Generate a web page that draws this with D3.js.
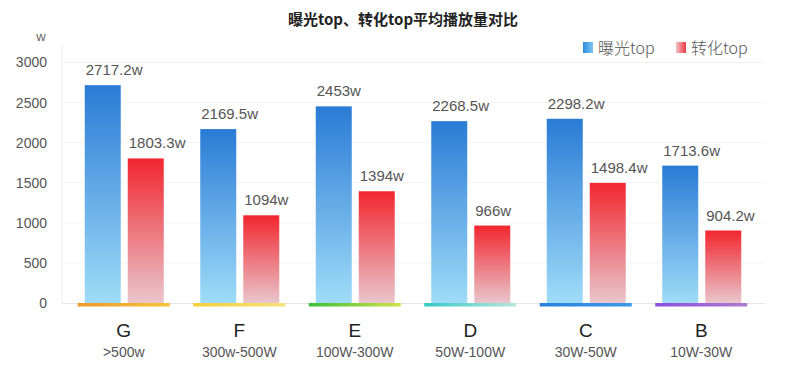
<!DOCTYPE html>
<html><head><meta charset="utf-8">
<script src="https://cdn.jsdelivr.net/npm/d3@7"></script>
<style>body{margin:0;background:#fff}svg{display:block}</style>
</head><body>
<svg id="c" width="806" height="368"></svg>
<script>
const categories = ["G","F","E","D","C","B"];
const ranges = [">500w","300w-500W","100W-300W","50W-100W","30W-50W","10W-30W"];
const exposure = [2717.2,2169.5,2453,2268.5,2298.2,1713.6];
const conversion = [1803.3,1094,1394,966,1498.4,904.2];
const exposureLabels = ["2717.2w","2169.5w","2453w","2268.5w","2298.2w","1713.6w"];
const conversionLabels = ["1803.3w","1094w","1394w","966w","1498.4w","904.2w"];
const yTicks = [0,500,1000,1500,2000,2500,3000];
const seriesNames = ["曝光top","转化top"];
const underlineColors = [["#ee9a2a","#f6c23a"],["#f3cf3a","#f6e27a"],["#3cbf3a","#d2e24a"],["#35c9c4","#b8e6dc"],["#2a7fe0","#3a9ae8"],["#8a4fe0","#b07ad0"]];

const svg = d3.select("#c");
const font = "'Liberation Sans','Noto Sans CJK SC',sans-serif";
const cjk = "'Noto Sans CJK SC','Noto Sans',sans-serif";
const x = d3.scaleBand().domain(categories).range([66,759]);
const y = d3.scaleLinear().domain([0,3000]).range([303,62.5]);

const defs = svg.append("defs");
function grad(id, c1, c2, vertical){
  const g = defs.append("linearGradient").attr("id",id)
    .attr("x1","0").attr("y1","0").attr("x2", vertical?"0":"1").attr("y2", vertical?"1":"0");
  g.append("stop").attr("offset","0").attr("stop-color",c1);
  g.append("stop").attr("offset","1").attr("stop-color",c2);
}
grad("gBlue","#2a7bd6","#9fdcf8",true);
grad("gRed","#f2262f","#e9c6cc",true);
grad("lBlue","#2f8be0","#7cc8f2",false);
grad("lRed","#f4c0c6","#ee3a44",false);
underlineColors.forEach((c,i)=>grad("u"+i,c[0],c[1],false));

// title
svg.append("text").attr("x",403).attr("y",25).attr("text-anchor","middle")
  .attr("font-family",cjk).attr("font-weight","bold").attr("font-size",15).attr("fill","#222")
  .text("曝光top、转化top平均播放量对比");

// grid
svg.append("g").selectAll("line").data(yTicks.slice(1)).join("line")
  .attr("x1",62).attr("x2",765).attr("y1",d=>y(d)).attr("y2",d=>y(d))
  .attr("stroke","#f3f3f3").attr("stroke-width",1);
svg.append("line").attr("x1",62).attr("x2",62).attr("y1",44).attr("y2",303).attr("stroke","#eeeeee");
svg.append("line").attr("x1",62).attr("x2",765).attr("y1",303.5).attr("y2",303.5).attr("stroke","#e6e6e6");

// y axis
const yAxis = d3.axisLeft(y).tickValues(yTicks).tickFormat(d3.format("d")).tickSize(0).tickPadding(15);
const ya = svg.append("g").attr("transform","translate(62,0)").call(yAxis);
ya.select(".domain").remove();
ya.selectAll("text").attr("font-family",font).attr("font-size",14).attr("fill","#555");
svg.append("text").attr("x",41).attr("y",41).attr("text-anchor","middle")
  .attr("font-family",font).attr("font-size",13).attr("fill","#666").text("w");

// legend
const leg = [{n:seriesNames[0],f:"url(#lBlue)",x:583},{n:seriesNames[1],f:"url(#lRed)",x:676}];
leg.forEach(l=>{
  svg.append("rect").attr("x",l.x).attr("y",42).attr("width",10).attr("height",11).attr("fill",l.f);
  svg.append("text").attr("x",l.x+15).attr("y",54).attr("font-family",cjk).attr("font-weight",300).attr("font-size",16)
    .attr("fill","#555").text(l.n);
});

const bw = 36;
const g = svg.append("g");
categories.forEach((c,i)=>{
  const cx = x(c)+x.bandwidth()/2;
  g.append("rect").attr("x",cx-39).attr("width",bw).attr("y",y(exposure[i]))
    .attr("height",y(0)-y(exposure[i])).attr("fill","url(#gBlue)");
  g.append("rect").attr("x",cx+4).attr("width",bw).attr("y",y(conversion[i]))
    .attr("height",y(0)-y(conversion[i])).attr("fill","url(#gRed)");
  g.append("text").attr("x",cx-38).attr("y",y(exposure[i])-10)
    .attr("font-family",font).attr("font-size",15).attr("fill","#555").text(exposureLabels[i]);
  g.append("text").attr("x",cx+5).attr("y",y(conversion[i])-10)
    .attr("font-family",font).attr("font-size",15).attr("fill","#555").text(conversionLabels[i]);
  g.append("rect").attr("x",cx-46).attr("width",92).attr("y",303).attr("height",3.5)
    .attr("fill","url(#u"+i+")");
  g.append("text").attr("x",cx).attr("y",337).attr("text-anchor","middle")
    .attr("font-family",font).attr("font-size",19).attr("fill","#222").text(c);
  g.append("text").attr("x",cx).attr("y",357).attr("text-anchor","middle")
    .attr("font-family",font).attr("font-size",14).attr("fill","#555").text(ranges[i]);
});
</script>
</body></html>
